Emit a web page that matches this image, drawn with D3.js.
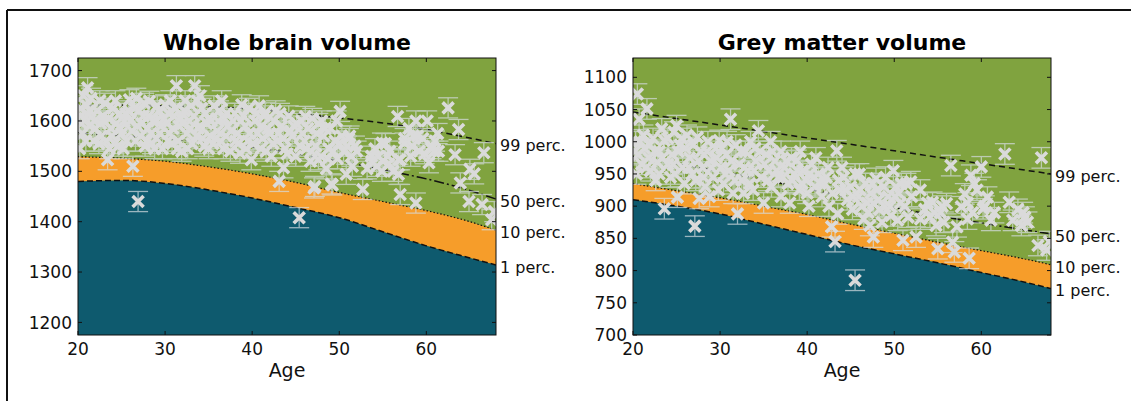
<!DOCTYPE html>
<html>
<head>
<meta charset="utf-8">
<script src="https://cdn.jsdelivr.net/npm/d3@7"></script>
<style>
body { margin: 0; background: #fff; }
svg { display: block; font-family: "DejaVu Sans", sans-serif; }
</style>
</head>
<body>
<div class="mainviz"></div>
<script>
// percentile curves, read at these ages
var ageKnots = [20, 25, 30, 35, 40, 45, 50, 55, 60, 65, 68];

var wholeP1  = [1480, 1482, 1476, 1463, 1447, 1428, 1408, 1380, 1352, 1328, 1314];
var wholeP10 = [1529, 1526, 1520, 1509, 1495, 1478, 1458, 1440, 1422, 1400, 1383];
var wholeP50 = [1576, 1571, 1565, 1558, 1548, 1535, 1520, 1503, 1485, 1462, 1445];
var wholeP99 = [1630, 1631, 1630, 1628, 1624, 1615, 1606, 1596, 1583, 1566, 1555];

var greyP1  = [910, 900, 888, 872, 856, 840, 826, 812, 797, 782, 772];
var greyP10 = [935, 924, 913, 900, 887, 872, 858, 844, 831, 818, 809];
var greyP50 = [977, 966, 954, 941, 927, 912, 898, 885, 874, 863, 857];
var greyP99 = [1046, 1036, 1026, 1016, 1006, 996, 986, 976, 966, 956, 950];

// subjects: [age, volume]
var wholePoints = [
[21.1,1666],[20.6,1650],[21.5,1645],[20.3,1625],[20.8,1605],[21.3,1590],[20.5,1575],[21.8,1560],[20.2,1545],[22.2,1620],
[22.7,1570],[23.4,1523],[23.0,1600],[23.8,1585],[24.2,1555],[24.6,1550],[24.8,1615],[25.3,1600],[25.9,1642],[26.3,1510],
[26.5,1625],[26.8,1590],[26.9,1440],[27.2,1570],[27.7,1550],[27.5,1610],[28.2,1639],[28.0,1585],[28.6,1600],[29.0,1565],
[29.3,1620],[29.7,1545],[30.0,1632],[30.2,1595],[30.5,1575],[30.8,1555],[31.0,1610],[31.3,1670],[31.6,1590],[31.9,1540],
[32.2,1620],[32.5,1575],[32.8,1600],[33.1,1555],[33.4,1670],[33.7,1640],[34.0,1590],[34.3,1565],[34.6,1615],[35.0,1545],
[35.3,1600],[35.6,1630],[36.0,1580],[36.4,1560],[36.8,1605],[37.2,1590],[37.5,1540],[38.0,1615],[38.3,1575],[38.6,1536],
[38.8,1632],[39.2,1590],[39.5,1560],[39.9,1523],[40.3,1600],[40.6,1575],[41.0,1545],[41.4,1610],[41.8,1585],[42.2,1530],
[42.5,1600],[42.9,1560],[43.1,1480],[43.4,1590],[43.8,1545],[44.2,1610],[44.6,1570],[45.0,1530],[45.4,1408],[45.7,1600],
[46.0,1560],[46.4,1585],[46.7,1520],[47.1,1467],[47.3,1550],[47.6,1595],[47.9,1530],[48.2,1570],[48.5,1505],[48.8,1545],
[49.1,1475],[49.5,1560],[49.8,1525],[50.1,1619],[50.5,1540],[50.8,1494],[51.1,1565],[51.5,1510],[51.8,1550],[52.7,1464],
[53.7,1520],[54.1,1545],[54.5,1530],[54.9,1500],[55.3,1555],[55.7,1515],[56.2,1500],[56.7,1609],[56.8,1494],[57.0,1523],
[57.0,1454],[57.5,1565],[58.0,1585],[58.4,1550],[58.8,1600],[58.8,1437],[59.2,1540],[59.6,1565],[60.1,1600],[60.3,1517],
[60.6,1545],[61.0,1560],[61.4,1540],[62.5,1626],[63.3,1533],[63.7,1583],[63.9,1477],[64.9,1440],[65.0,1504],[65.5,1495],
[66.4,1434],[66.6,1537],[67.5,1404],[67.8,1420],
[41.5,1616],[46.1,1609],[51.2,1570],[54.9,1556],[57.5,1556],[56.8,1523],[43.6,1507],[47.2,1470],[49.2,1473],[47.6,1523],
[53.7,1530],[52.0,1540],[53.2,1505],[55.8,1540],[59.0,1570],[60.6,1550],[61.3,1575],[58.2,1530],[44.8,1590],[42.7,1620],
[40.8,1630],[45.5,1550],[48.0,1600],[49.0,1585],[50.0,1555],[46.8,1540],[43.0,1575],[41.2,1565],
[20.4,1595],[21.0,1630],[21.6,1610],[22.0,1585],[22.5,1640],[23.2,1560],[24.0,1625],[24.4,1595],[25.0,1575],[25.6,1560],
[26.0,1600],[26.7,1645],[27.0,1620],[27.9,1560],[28.4,1575],[29.0,1600],[29.5,1590],[30.3,1560],[30.6,1640],[31.2,1625],
[32.0,1595],[32.6,1545],[33.0,1630],[33.8,1585],[34.5,1550],[35.0,1605],[35.8,1565],[36.2,1620],[37.0,1570],[37.8,1600],
[38.4,1555],[39.0,1610],[39.7,1575],[34.0,1650],[36.7,1545],[31.5,1560],[28.8,1545],[23.6,1545],[22.9,1610],[25.8,1620],
[20.3,1610],[20.9,1560],[21.4,1620],[21.9,1600],[22.4,1555],[22.6,1595],[23.1,1635],[23.5,1605],[23.9,1570],[24.3,1640],
[24.9,1585],[25.2,1545],[25.5,1615],[26.2,1580],[26.6,1560],[27.3,1595],[27.6,1635],[28.1,1610],[28.5,1555],[29.1,1630],
[29.4,1575],[29.9,1605],[30.4,1615],[30.9,1585],[31.4,1545],[31.8,1605],[32.3,1640],[32.9,1585],[33.3,1610],[33.6,1570],
[34.2,1625],[34.8,1595],[35.2,1570],[35.5,1555],[36.1,1600],[36.5,1640],[37.1,1615],[37.6,1580],[38.1,1560],[38.7,1600],
[39.3,1545],[39.6,1625],[40.1,1555],[40.5,1615],[41.1,1590],[41.6,1540],[42.0,1575],[42.4,1555],[43.2,1615],[43.6,1565],
[44.0,1535],[44.4,1580],[45.1,1595],[45.8,1575],[46.2,1545],[46.9,1605],[47.4,1575],[48.4,1585],[48.7,1525],[49.3,1540],
[49.7,1600],[50.3,1570],[50.9,1550],[51.4,1530],[55.0,1520],[54.3,1510],[55.6,1530],[58.5,1570],[59.8,1535],[60.9,1540]
];

var greyPoints = [
[20.5,1074],[21.6,1051],[20.7,1035],[20.3,1000],[20.6,980],[21.0,965],[20.4,950],[21.3,990],[21.8,975],[22.3,1005],
[22.0,955],[22.6,940],[23.0,985],[23.3,1020],[23.6,1002],[23.6,896],[24.0,965],[24.3,945],[24.7,1015],[24.5,980],
[25.1,914],[25.0,1025],[25.4,995],[25.7,960],[25.9,935],
[26.2,1010],[26.5,975],[26.8,950],[27.1,869],[27.4,1007],[27.6,912],[27.8,985],[28.0,960],[28.3,930],[28.6,1000],
[28.9,970],[29.2,945],[29.5,990],[29.9,1002],[30.1,960],[30.4,935],[30.7,980],[31.0,955],[31.2,1035],[31.5,920],
[31.8,995],[32.0,888],[32.2,965],[32.5,940],
[32.9,985],[33.2,955],[33.5,1000],[33.8,925],[34.1,970],[34.4,1017],[34.7,945],[35.0,905],[35.3,980],[35.6,955],
[35.9,930],[36.3,970],[36.7,945],[37.0,915],[37.4,960],[37.8,935],[38.2,975],[38.5,950],[38.8,971],[39.1,925],
[39.5,955],[39.9,940],[40.2,900],[40.5,965],
[40.9,930],[41.3,950],[41.7,915],[42.0,935],[42.4,960],[42.8,868],[43.2,845],[43.4,986],[43.5,888],[43.8,925],
[44.2,945],[44.6,910],[45.0,930],[45.5,950],[45.5,785],[45.9,915],[46.3,900],[46.7,935],[47.0,890],[47.3,920],
[47.6,852],[47.6,904],[47.9,943],
[48.3,895],[48.6,875],[48.9,899],[49.3,915],[49.6,885],[49.9,955],[50.2,930],[50.4,878],[50.7,905],[51.0,847],
[51.4,935],[51.6,883],[51.9,938],[52.5,852],[53.0,880],[53.5,895],[54.1,883],[54.4,906],[54.8,870],[55.0,834],
[55.3,890],[55.7,875],
[56.0,904],[56.5,963],[56.7,844],[56.9,829],[57.2,868],[57.7,899],[58.1,919],[58.4,880],[58.6,819],[58.8,948],
[59.2,935],[59.5,925],[60.0,961],[60.2,896],[60.7,914],[61.1,878],[61.5,890],[62.7,981],[63.2,906],[63.6,878],
[64.2,895],[64.6,870],[65.0,883],[65.3,875],[66.5,839],[66.9,975],[67.5,832],[67.8,845],
[21.2,1010],[22.8,968],[24.8,950],[26.0,990],[27.2,940],[28.8,915],[29.8,925],[30.8,1000],[32.7,920],[34.0,990],
[35.8,1000],[37.0,985],[38.0,905],[39.2,985],[40.0,920],[41.0,975],[42.5,900],[44.0,960],[45.2,895],[46.0,950],
[48.0,925],[49.0,945],[50.5,920],[52.0,915],[53.0,925],[47.2,870],[46.5,880],
[20.2,985],[20.8,1000],[21.5,960],[21.9,995],[22.5,985],[23.0,950],[23.4,975],[24.0,1005],[24.6,965],[25.2,985],
[25.6,1005],[26.4,960],[26.9,995],[27.5,970],[28.1,945],[28.5,985],[29.0,960],[29.6,975],[30.2,990],[30.6,950],
[31.3,970],[31.7,940],[32.4,985],[32.8,960],[33.4,935],[33.9,955],[34.6,985],[35.1,965],[35.5,940],[36.0,985],
[36.5,955],[37.2,945],[37.6,970],[38.3,940],[38.9,955],[39.4,935],[40.3,950],[40.8,945],[41.5,935],[42.2,945],
[42.9,920],[43.6,940],[44.4,925],[45.3,915],[46.1,925],[46.9,905],[47.5,935],[48.2,910],[48.8,930],[49.5,900],
[50.1,915],[50.8,935],[51.2,900],[53.8,905],[54.6,890],[55.5,900],[58.4,905],[59.0,890],[60.4,900],[64.8,890]
];

var ageTicks = [20, 30, 40, 50, 60];
var wholeTicks = [1200, 1300, 1400, 1500, 1600, 1700];
var greyTicks = [700, 750, 800, 850, 900, 950, 1000, 1050, 1100];
var percNames = ["1 perc.", "10 perc.", "50 perc.", "99 perc."];

var svg = d3.select(".mainviz").append("svg")
	.attr("width", 1131)
	.attr("height", 401);

// figure frame (top and left edges)
svg.append("line").attr("x1", 7).attr("x2", 1131).attr("y1", 10).attr("y2", 10)
	.attr("stroke", "#111").attr("stroke-width", 2);
svg.append("line").attr("x1", 7).attr("x2", 7).attr("y1", 10).attr("y2", 401)
	.attr("stroke", "#111").attr("stroke-width", 2);

function drawPanel(cfg) {
	var w = cfg.right - cfg.left, h = cfg.bottom - cfg.top;

	var x = d3.scaleLinear().domain([20, 68]).range([0, w]);
	var y = d3.scaleLinear().domain(cfg.yDomain).range([h, 0]);

	var g = svg.append("g")
		.attr("transform", "translate(" + cfg.left + "," + cfg.top + ")");

	g.append("clipPath").attr("id", cfg.id + "clip")
		.append("rect").attr("width", w).attr("height", h);

	var plot = g.append("g").attr("clip-path", "url(#" + cfg.id + "clip)");

	var knots = function (vals) { return ageKnots.map(function (a, i) { return [a, vals[i]]; }); };

	plot.append("rect").attr("width", w).attr("height", h).attr("fill", "#80a33f");

	var band = d3.area()
		.x(function (d) { return x(d[0]); })
		.y0(function (d) { return y(d[1]); })
		.y1(function (d) { return y(d[2]); })
		.curve(d3.curveMonotoneX);

	plot.append("path")
		.attr("d", band(ageKnots.map(function (a, i) { return [a, cfg.p[0][i], cfg.p[1][i]]; })))
		.attr("fill", "#f69d2a");

	plot.append("path")
		.attr("d", band(ageKnots.map(function (a, i) { return [a, cfg.yDomain[0], cfg.p[0][i]]; })))
		.attr("fill", "#0e5a6e");

	var line = d3.line()
		.x(function (d) { return x(d[0]); })
		.y(function (d) { return y(d[1]); })
		.curve(d3.curveMonotoneX);

	var dashes = ["6,3", "1.5,2", "10,3,2,3", "6,4"];
	var widths = [1.5, 1.2, 1.5, 1.5];
	cfg.p.forEach(function (vals, i) {
		plot.append("path")
			.attr("d", line(knots(vals)))
			.attr("fill", "none")
			.attr("stroke", "#111")
			.attr("stroke-width", widths[i])
			.attr("stroke-dasharray", dashes[i]);
	});

	// error bars
	var err = plot.append("g").attr("stroke", "#d6dde2").attr("stroke-width", 1.3).attr("opacity", 0.7);
	cfg.points.forEach(function (d) {
		var cx = x(d[0]), lo = y(d[1] - cfg.err), hi = y(d[1] + cfg.err);
		err.append("line").attr("x1", cx).attr("x2", cx).attr("y1", lo).attr("y2", hi);
		err.append("line").attr("x1", cx - 10).attr("x2", cx + 10).attr("y1", lo).attr("y2", lo);
		err.append("line").attr("x1", cx - 10).attr("x2", cx + 10).attr("y1", hi).attr("y2", hi);
	});

	plot.selectAll("path.pt")
		.data(cfg.points)
		.enter().append("path")
		.attr("class", "pt")
		.attr("transform", function (d) { return "translate(" + x(d[0]) + "," + y(d[1]) + ")"; })
		.attr("d", "M-5.5,-5.5L5.5,5.5M-5.5,5.5L5.5,-5.5")
		.attr("stroke", "#dadada")
		.attr("stroke-width", 3.6)
		.attr("fill", "none");

	// frame and inward ticks on all sides
	g.append("rect").attr("width", w).attr("height", h)
		.attr("fill", "none").attr("stroke", "#111").attr("stroke-width", 1);

	var ticks = g.append("g").attr("stroke", "#111").attr("stroke-width", 1);
	ageTicks.forEach(function (t) {
		ticks.append("line").attr("x1", x(t)).attr("x2", x(t)).attr("y1", h).attr("y2", h - 4);
		ticks.append("line").attr("x1", x(t)).attr("x2", x(t)).attr("y1", 0).attr("y2", 4);
	});
	cfg.yTicks.forEach(function (t) {
		ticks.append("line").attr("x1", 0).attr("x2", 4).attr("y1", y(t)).attr("y2", y(t));
		ticks.append("line").attr("x1", w).attr("x2", w - 4).attr("y1", y(t)).attr("y2", y(t));
	});

	g.selectAll("text.xt")
		.data(ageTicks)
		.enter().append("text")
		.attr("class", "xt")
		.attr("x", function (d) { return x(d); })
		.attr("y", h + 20)
		.attr("text-anchor", "middle")
		.attr("font-size", 17)
		.attr("fill", "#111")
		.text(function (d) { return d; });

	g.selectAll("text.yt")
		.data(cfg.yTicks)
		.enter().append("text")
		.attr("class", "yt")
		.attr("x", -6)
		.attr("y", function (d) { return y(d); })
		.attr("dy", "0.36em")
		.attr("text-anchor", "end")
		.attr("font-size", 17)
		.attr("fill", "#111")
		.text(function (d) { return d; });

	cfg.p.forEach(function (vals, i) {
		g.append("text")
			.attr("x", w + 4)
			.attr("y", y(vals[vals.length - 1]) + 2)
			.attr("dy", "0.36em")
			.attr("font-size", 16)
			.attr("fill", "#111")
			.text(percNames[i]);
	});

	g.append("text")
		.attr("x", w / 2).attr("y", -8)
		.attr("text-anchor", "middle")
		.attr("font-size", 22)
		.attr("font-weight", "bold")
		.attr("fill", "#000")
		.text(cfg.title);

	g.append("text")
		.attr("x", w / 2).attr("y", h + 42)
		.attr("text-anchor", "middle")
		.attr("font-size", 19)
		.attr("fill", "#111")
		.text("Age");
}

drawPanel({
	id: "wb", title: "Whole brain volume",
	left: 78, right: 496, top: 58, bottom: 335,
	yDomain: [1175, 1725], yTicks: wholeTicks,
	p: [wholeP1, wholeP10, wholeP50, wholeP99],
	points: wholePoints, err: 20
});

drawPanel({
	id: "gm", title: "Grey matter volume",
	left: 633, right: 1051, top: 58, bottom: 335,
	yDomain: [700, 1130], yTicks: greyTicks,
	p: [greyP1, greyP10, greyP50, greyP99],
	points: greyPoints, err: 16
});
</script>
</body>
</html>
